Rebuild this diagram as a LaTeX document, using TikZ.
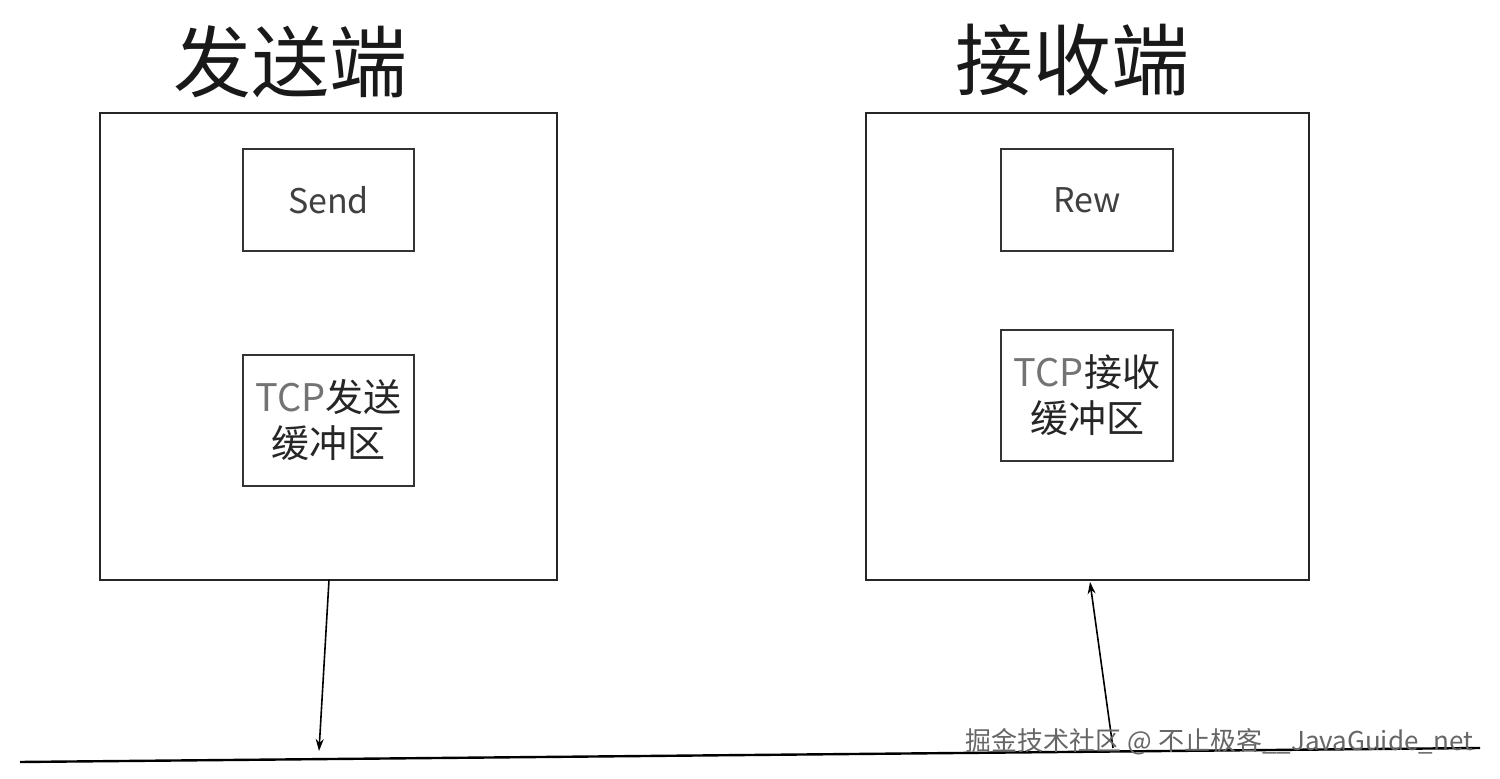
\documentclass[tikz,border=0pt]{standalone}
\usepackage{fontspec}
\setmainfont{Noto Sans CJK SC}
\usetikzlibrary{arrows.meta}
\begin{document}
\begin{tikzpicture}[x=0.5pt,y=-0.5pt,
  box/.style={draw=black!85,line width=1pt},
  sub/.style={draw=black!80,line width=1.2pt,fill=white,align=center,font=\fontsize{17}{22}\selectfont,text=black!75},
  buf/.style={sub,font=\fontsize{19}{23}\selectfont,text=black!85},
  title/.style={font=\fontsize{39}{42}\selectfont,text=black!90},
  arr/.style={-{Stealth[length=6pt,width=4pt]},line width=0.8pt}]
\useasboundingbox (0,0) rectangle (1500,779);
\node[title] (t1) at (290,62) {发送端};
\node[title] (t2) at (1072,60) {接收端};
\draw[box] (100,113) rectangle (557,580);
\coordinate (lb) at (329,580);
\draw[box] (866,113) rectangle (1309,580);
\coordinate (rb) at (1090,582);
\node[sub,minimum width=85.5pt,minimum height=51pt] (send) at (328.5,200) {Send};
\node[buf,minimum width=85.5pt,minimum height=65.5pt,inner sep=1pt] (tbs) at (328.5,420.5) {\textcolor{black!55}{TCP}发送\\缓冲区};
\node[sub,minimum width=86pt,minimum height=51pt] (rew) at (1087,200) {Rew};
\node[buf,minimum width=86pt,minimum height=65.5pt,inner sep=1pt] (tbr) at (1087,395.5) {\textcolor{black!55}{TCP}接收\\缓冲区};
\coordinate (l0) at (20,762);
\coordinate (l1) at (1480,748);
\draw[line width=1.2pt] (l0) -- (l1);
\coordinate (la) at (319,751);
\coordinate (ra) at (1113,748);
\draw[arr] (lb) -- (la);
\draw[arr] (ra) -- (rb);
\node[font=\fontsize{13}{15}\selectfont,text=black!60,anchor=east] (wm) at (1480,742) {掘金技术社区 @ 不止极客\_\_JavaGuide\_net};
\end{tikzpicture}
\end{document}
